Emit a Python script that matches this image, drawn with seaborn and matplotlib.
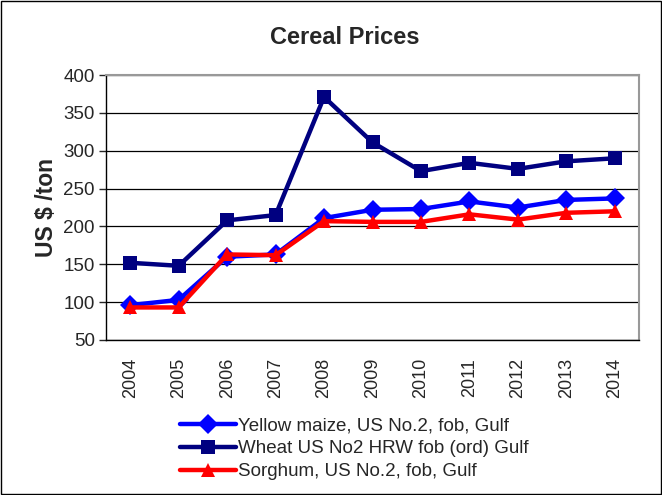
import pandas as pd
import matplotlib.pyplot as plt
import seaborn as sns

years = ["2004", "2005", "2006", "2007", "2008", "2009", "2010", "2011", "2012", "2013", "2014"]
maize = [96, 103, 160, 163, 211, 222, 223, 233, 225, 235, 237]
wheat = [152, 148, 208, 215, 371, 311, 273, 284, 276, 286, 290]
sorghum = [93, 93, 163, 162, 207, 206, 206, 216, 209, 218, 220]

names = ["Yellow maize, US No.2, fob, Gulf",
         "Wheat US No2 HRW fob (ord) Gulf",
         "Sorghum, US No.2, fob, Gulf"]

df = pd.DataFrame({
    "pos": list(range(len(years))) * 3,
    "price": maize + wheat + sorghum,
    "series": [names[0]] * 11 + [names[1]] * 11 + [names[2]] * 11,
})

sns.set_style("white")
plt.rcParams["font.family"] = ["Liberation Sans", "DejaVu Sans"]

fig = plt.figure(figsize=(6.62, 4.95), dpi=100)
ax = fig.add_axes([106 / 662, 1 - 340 / 495, 533 / 662, 265 / 495])

sns.lineplot(data=df, x="pos", y="price", hue="series", style="series",
             palette={names[0]: "#0000FF", names[1]: "#000080", names[2]: "#FF0000"},
             markers={names[0]: "D", names[1]: "s", names[2]: "^"},
             dashes=False, linewidth=3.2, markersize=10, markeredgewidth=0,
             ax=ax, legend=True)

ax.set_xlim(-0.5, 10.5)
ax.set_ylim(50, 400)
ax.set_yticks(range(50, 401, 50))
ax.yaxis.grid(True, color="black", linewidth=0.9)
ax.set_xticks(range(11))
ax.set_xticklabels(years, rotation=90, fontsize=13)
ax.set_xticks([i - 0.5 for i in range(12)], minor=True)
ax.tick_params(axis="x", which="major", length=0, pad=13)
ax.tick_params(axis="x", which="minor", length=5, direction="out", width=1)
ax.tick_params(axis="y", length=5, direction="out", width=1, labelsize=13.5, left=True, pad=3)
ax.set_xlabel("")
ax.set_ylabel("US $ /ton", fontsize=16.5, fontweight="bold", labelpad=4)
for side in ["top", "right"]:
    ax.spines[side].set_color("#999999")
    ax.spines[side].set_linewidth(1.5)
for side in ["left", "bottom"]:
    ax.spines[side].set_color("black")
    ax.spines[side].set_linewidth(1)

fig.text(345 / 662, 1 - 37 / 495, "Cereal Prices", ha="center", va="center",
         fontsize=17, fontweight="bold")

handles, labels = ax.get_legend_handles_labels()
ax.legend(handles, labels, loc="upper left", bbox_to_anchor=(172 / 662, 1 - 410 / 495),
          bbox_transform=fig.transFigure, frameon=False, fontsize=13.5,
          handlelength=3.0, handletextpad=0.1, labelspacing=0.3, borderaxespad=0)

fig.patches.append(plt.Rectangle((0.002, 0.002), 0.996, 0.996, transform=fig.transFigure,
                                 fill=False, edgecolor="black", linewidth=1))

fig.savefig("out.png", dpi=100)
